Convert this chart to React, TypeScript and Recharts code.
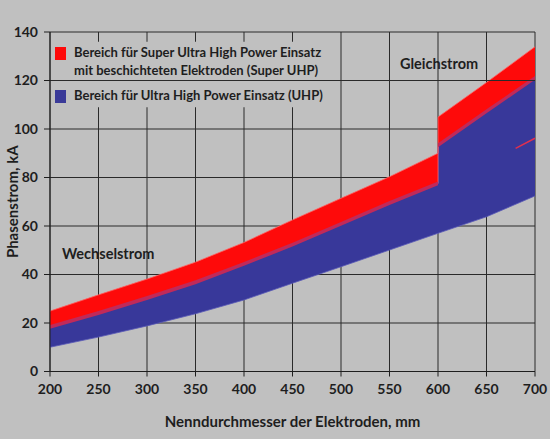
import React from "react";
import {
  ComposedChart,
  Area,
  Line,
  XAxis,
  YAxis,
  CartesianGrid,
  ReferenceArea,
  ReferenceLine,
} from "recharts";

// Nenndurchmesser (mm); 600 appears twice: AC end / DC start
const diameters = [200, 250, 300, 350, 400, 450, 500, 550, 600, 600, 650, 700];
// UHP band lower edge (kA)
const uhpLow = [10, 14.2, 18.8, 23.8, 29.5, 36.4, 43.2, 50.1, 57, 57, 63.8, 72.4];
// UHP band upper edge = Super UHP lower edge (kA)
const uhpHigh = [18.3, 24, 30.2, 36.7, 44.3, 52.2, 60.8, 69.4, 77.5, 93.2, 107.2, 121];
// Super UHP upper edge (kA)
const superHigh = [24.9, 31.6, 38.1, 45.1, 53.2, 62.5, 71.4, 80.3, 90, 104.9, 119.2, 133.9];

// small stray red line at the right edge
const strayX = [680, 700];
const strayY = [92, 96.2];

const xTicks = [200, 250, 300, 350, 400, 450, 500, 550, 600, 650, 700];
const yTicks = [0, 20, 40, 60, 80, 100, 120, 140];

const legendItems = [
  {
    color: "#fe0a0a",
    lines: ["Bereich für Super Ultra High Power Einsatz", "mit beschichteten Elektroden (Super UHP)"],
  },
  { color: "#3a3a98", lines: ["Bereich für Ultra High Power Einsatz (UHP)"] },
];

const data = diameters.map((x, i) => ({
  x,
  uhp: [uhpLow[i], uhpHigh[i]],
  sup: [uhpHigh[i], superHigh[i]],
  seam: [uhpHigh[i] - 0.7, uhpHigh[i] + 0.9],
}));
const strayData = strayX.map((x, i) => ({ x, stray: strayY[i] }));

const BG = "#c0c0c0";
const INK = "#1e1e1e";
const FONT = "Lato, 'Noto Sans', sans-serif";

export default function App() {
  return (
    <div
      style={{
        position: "absolute",
        left: 0,
        top: 0,
        width: 550,
        height: 439,
        background: BG,
        fontFamily: FONT,
      }}
    >
      <ComposedChart
        width={550}
        height={439}
        data={data}
        margin={{ top: 32, right: 15, bottom: 0, left: 0 }}
      >
        <CartesianGrid stroke="#2a2a2a" strokeWidth={1} />
        <XAxis
          dataKey="x"
          type="number"
          domain={[200, 700]}
          ticks={xTicks}
          height={67.5}
          tickSize={5}
          tickMargin={8}
          stroke={INK}
          tick={{ fill: INK, fontSize: 14, fontWeight: 700, fontFamily: FONT }}
          label={{
            value: "Nenndurchmesser der Elektroden, mm",
            position: "insideBottom",
            offset: 12,
            style: { fill: INK, fontSize: 15, fontWeight: 700, fontFamily: FONT },
          }}
        />
        <YAxis
          type="number"
          domain={[0, 140]}
          ticks={yTicks}
          width={50}
          tickSize={6}
          tickMargin={6}
          stroke={INK}
          tick={{ fill: INK, fontSize: 14, fontWeight: 700, fontFamily: FONT }}
          label={{
            value: "Phasenstrom, kA",
            angle: -90,
            position: "insideLeft",
            offset: 12.5,
            style: { textAnchor: "middle", fill: INK, fontSize: 15, fontWeight: 700, fontFamily: FONT },
          }}
        />
        <ReferenceArea
          x1={201}
          x2={492}
          y1={109}
          y2={136}
          fill={BG}
          fillOpacity={1}
          stroke="none"
          ifOverflow="visible"
        />
        <ReferenceLine y={120} stroke="#2a2a2a" strokeWidth={1} />
        <Area
          dataKey="uhp"
          type="linear"
          fill="#38389a"
          fillOpacity={1}
          stroke="#5a5ab8"
          strokeWidth={0.8}
          isAnimationActive={false}
        />
        <Area
          dataKey="sup"
          type="linear"
          fill="#fe0a0a"
          fillOpacity={1}
          stroke="#ff6060"
          strokeWidth={0.8}
          isAnimationActive={false}
        />
        <Area
          dataKey="seam"
          type="linear"
          fill="#c02a5a"
          fillOpacity={1}
          stroke="none"
          isAnimationActive={false}
        />
        <Line
          data={strayData}
          dataKey="stray"
          type="linear"
          stroke="#e0304e"
          strokeWidth={1.5}
          dot={false}
          isAnimationActive={false}
        />
      </ComposedChart>

      {/* legend */}
      <div style={{ position: "absolute", left: 55, top: 44, color: INK, fontWeight: 700, fontSize: 13, lineHeight: "17.5px" }}>
        {legendItems.map((it, k) => (
          <div key={k} style={{ display: "flex", alignItems: "flex-start", marginBottom: k === 0 ? 7.5 : 0 }}>
            <div style={{ width: 11, height: 13, background: it.color, marginTop: 3, marginRight: 8, flex: "none" }} />
            <div>
              {it.lines.map((l, j) => (
                <div key={j} style={{ whiteSpace: "nowrap" }}>{l}</div>
              ))}
            </div>
          </div>
        ))}
      </div>

      <div style={{ position: "absolute", left: 400, top: 55, color: INK, fontWeight: 700, fontSize: 14.5, whiteSpace: "nowrap" }}>
        Gleichstrom
      </div>
      <div style={{ position: "absolute", left: 62, top: 245, color: INK, fontWeight: 700, fontSize: 14.5, whiteSpace: "nowrap" }}>
        Wechselstrom
      </div>
    </div>
  );
}
